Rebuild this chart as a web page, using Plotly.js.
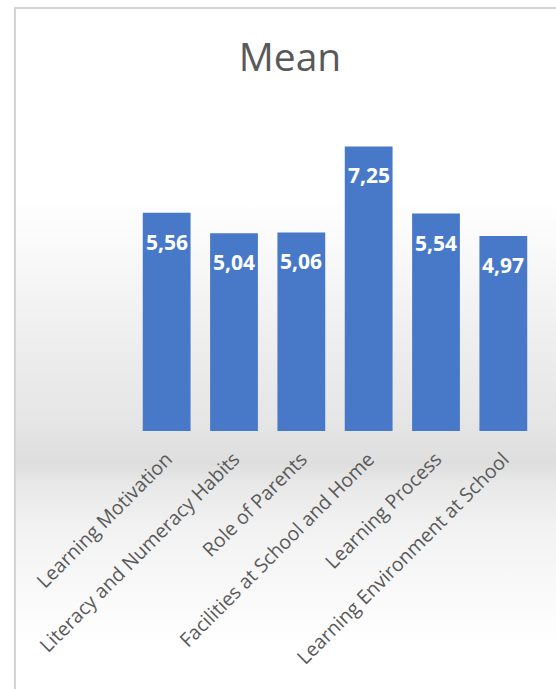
<!DOCTYPE html>
<html>
<head>
<meta charset="utf-8">
<script src="https://cdn.plot.ly/plotly-3.0.1.min.js"></script>
<style>
  html, body { margin: 0; padding: 0; width: 556px; height: 689px; overflow: hidden; background: #ffffff; }
  #frame {
    position: absolute; left: 14px; top: 7px; width: 542px; height: 682px;
    border-left: 2px solid #d4d4d4; border-top: 2px solid #d4d4d4;
    background: linear-gradient(to bottom, #ffffff 0px, #ffffff 190px, #f7f7f7 260px, #eeeeee 330px, #e6e6e6 410px, #dedede 455px, #e8e8e8 475px, #f2f2f2 520px, #fafafa 590px, #ffffff 640px);
  }
  #chart { position: absolute; left: 0; top: 0; width: 556px; height: 689px; }
</style>
</head>
<body>
<div id="frame"></div>
<div id="chart"></div>
<script>
const categories = [
  "Learning Motivation",
  "Literacy and Numeracy Habits",
  "Role of Parents",
  "Facilities at School and Home",
  "Learning Process",
  "Learning Environment at School"
];
const meanValues = [5.56, 5.04, 5.06, 7.25, 5.54, 4.97];
const chartTitle = "Mean";

function fmt(v) { return v.toFixed(2).replace('.', ','); }

const trace = {
  type: 'bar',
  x: categories,
  y: meanValues,
  marker: { color: '#4779c8', line: { width: 0 } },
  hoverinfo: 'skip'
};

const annotations = categories.map((c, i) => ({
  x: c, y: meanValues[i], xref: 'x', yref: 'y',
  text: fmt(meanValues[i]),
  showarrow: false, yanchor: 'middle', xanchor: 'center', yshift: -29,
  font: { family: 'Open Sans', size: 21, color: '#ffffff', weight: 'bold' }
}));

const layout = {
  width: 556, height: 689,
  margin: { l: 133, r: 19, t: 117, b: 258, pad: 0 },
  paper_bgcolor: 'rgba(0,0,0,0)',
  plot_bgcolor: 'rgba(0,0,0,0)',
  separators: ',.',
  bargap: 0.29,
  showlegend: false,
  title: {
    text: chartTitle,
    x: 290 / 556, xanchor: 'center', xref: 'container',
    y: 1 - 57 / 689, yanchor: 'middle', yref: 'container',
    font: { family: 'Open Sans', size: 39, color: '#595959' }
  },
  xaxis: {
    tickangle: -45,
    tickfont: { family: 'Open Sans', size: 19.5, color: '#595959' },
    showline: false, showgrid: false, zeroline: false, ticks: '',
    ticklabelstandoff: 12,
    fixedrange: true
  },
  yaxis: {
    range: [0, 8],
    visible: false,
    fixedrange: true
  },
  annotations: annotations
};

Plotly.newPlot('chart', [trace], layout, { displayModeBar: false, staticPlot: true });
</script>
</body>
</html>
